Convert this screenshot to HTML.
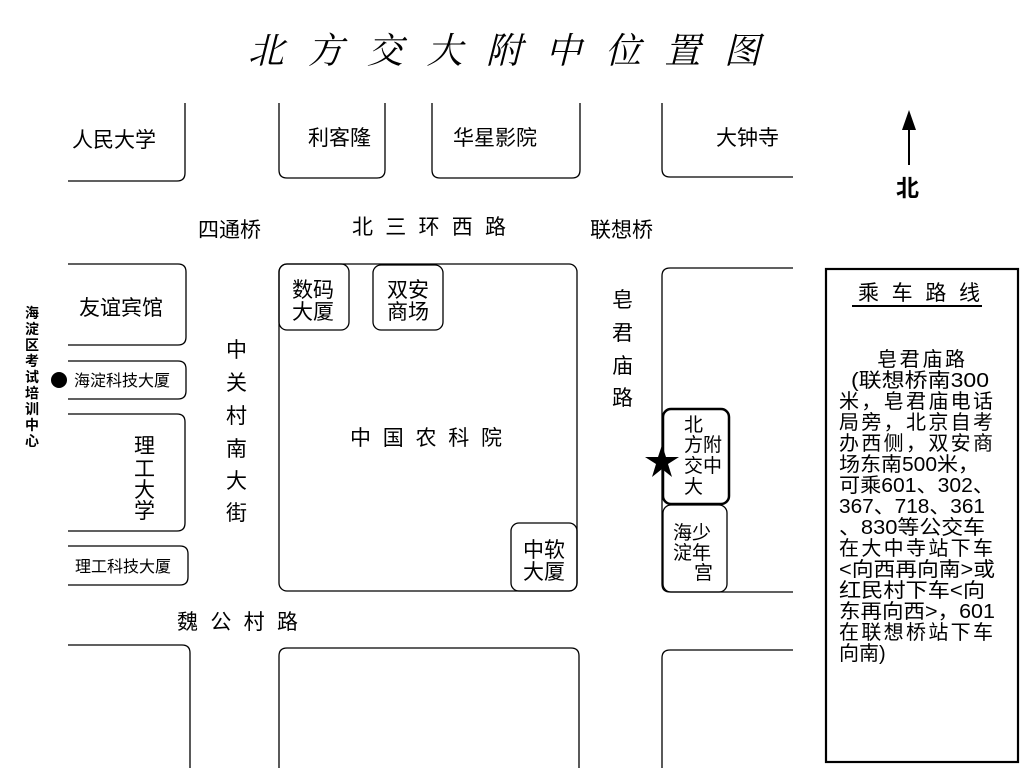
<!DOCTYPE html>
<html><head><meta charset="utf-8"><style>
body{margin:0;background:#fff;}
svg{display:block}
text{font-family:"Liberation Sans","Noto Sans CJK SC",sans-serif;fill:#000;}
</style></head><body>
<svg width="1024" height="768" viewBox="0 0 1024 768" xmlns="http://www.w3.org/2000/svg">
<g fill="none" stroke="#000" stroke-width="1.3">
<path d="M68,181 H177 Q185,181 185,173 V103"/>
<path d="M279,103 V170 Q279,178 287,178 H377 Q385,178 385,170 V103"/>
<path d="M432,103 V170 Q432,178 440,178 H572 Q580,178 580,170 V103"/>
<path d="M662,103 V169 Q662,177 670,177 H793"/>
<path d="M68,264 H178 Q186,264 186,272 V337 Q186,345 178,345 H68"/>
<path d="M68,361 H178 Q186,361 186,369 V391 Q186,399 178,399 H68"/>
<path d="M68,414 H177 Q185,414 185,422 V523 Q185,531 177,531 H68"/>
<path d="M68,546 H180 Q188,546 188,554 V577 Q188,585 180,585 H68"/>
<rect x="279" y="264" width="298" height="327" rx="8"/>
<rect x="279" y="264" width="70" height="66" rx="8"/>
<rect x="373" y="265" width="70" height="65" rx="8"/>
<rect x="511" y="523" width="66" height="68" rx="8"/>
<path d="M793,268 H670 Q662,268 662,276 V584 Q662,592 670,592 H793"/>
<rect x="663" y="505" width="64" height="87" rx="8"/>
<rect x="663" y="409" width="66" height="95" rx="8" stroke-width="2.5"/>
<path d="M68,645 H182 Q190,645 190,653 V768"/>
<path d="M279,768 V656 Q279,648 287,648 H571 Q579,648 579,656 V768"/>
<path d="M662,768 V658 Q662,650 670,650 H793"/>
<rect x="826" y="269" width="192" height="493" stroke-width="2.2"/>
<line x1="852" y1="306" x2="982" y2="306" stroke-width="2"/>
<line x1="909" y1="116" x2="909" y2="165" stroke-width="2"/>
</g>
<polygon points="909,110 902,130 916,130" fill="#000"/>
<circle cx="59" cy="380" r="8" fill="#000"/>
<polygon points="662,445 666,457 679,457 668,464 672,477 662,469 652,477 656,464 645,457 658,457" fill="#000"/>

<text x="248" y="63" font-size="36" font-style="italic" textLength="512" lengthAdjust="spacing" style="font-family:'Noto Serif CJK SC',serif">北方交大附中位置图</text>

<g font-size="21">
<text x="72" y="147">人民大学</text>
<text x="308" y="145">利客隆</text>
<text x="453" y="145">华星影院</text>
<text x="716" y="145">大钟寺</text>
<text x="198" y="237">四通桥</text>
<text x="352" y="234" textLength="154" lengthAdjust="spacing">北三环西路</text>
<text x="590" y="237">联想桥</text>
<text x="79" y="315">友谊宾馆</text>
<text x="134" y="453">理</text><text x="134" y="476">工</text><text x="134" y="497">大</text><text x="134" y="518">学</text>
<text x="292" y="297">数码</text><text x="292" y="319">大厦</text>
<text x="387" y="297">双安</text><text x="387" y="319">商场</text>
<text x="350" y="445" textLength="152" lengthAdjust="spacing">中国农科院</text>
<text x="523" y="557">中软</text><text x="523" y="579">大厦</text>
<text x="226" y="357">中</text><text x="226" y="390">关</text><text x="226" y="423">村</text><text x="226" y="456">南</text><text x="226" y="488">大</text><text x="226" y="520">街</text>
<text x="612" y="307">皂</text><text x="612" y="340">君</text><text x="612" y="373">庙</text><text x="612" y="405">路</text>
<text x="177" y="629" textLength="121" lengthAdjust="spacing">魏公村路</text>
<text x="896" y="196" font-weight="bold" font-size="23">北</text>
<text x="858" y="300" textLength="122" lengthAdjust="spacing">乘车路线</text>
</g>
<g font-size="16">
<text x="74" y="386">海淀科技大厦</text>
<text x="75" y="572">理工科技大厦</text>
</g>
<g font-size="19">
<text x="684" y="431">北</text>
<text x="684" y="451">方附</text>
<text x="684" y="472">交中</text>
<text x="684" y="493">大</text>
<text x="673" y="539">海少</text>
<text x="673" y="559">淀年</text>
<text x="694" y="579">宫</text>
</g>
<g font-size="14" font-weight="bold">
<text x="25" y="318">海</text><text x="25" y="334">淀</text><text x="25" y="350">区</text><text x="25" y="366">考</text><text x="25" y="382">试</text><text x="25" y="398">培</text><text x="25" y="414">训</text><text x="25" y="430">中</text><text x="25" y="446">心</text>
</g>
<g font-size="20">
<text x="877" y="366" textLength="88" lengthAdjust="spacing">皂君庙路</text>
<text x="851" y="387" textLength="138" lengthAdjust="spacingAndGlyphs">(联想桥南300</text>
<text x="839" y="408" textLength="154" lengthAdjust="spacing">米，皂君庙电话</text>
<text x="839" y="429" textLength="154" lengthAdjust="spacing">局旁，北京自考</text>
<text x="839" y="450" textLength="154" lengthAdjust="spacing">办西侧，双安商</text>
<text x="839" y="471" textLength="140" lengthAdjust="spacingAndGlyphs">场东南500米，</text>
<text x="839" y="492" textLength="155" lengthAdjust="spacingAndGlyphs">可乘601、302、</text>
<text x="839" y="513" textLength="146" lengthAdjust="spacingAndGlyphs">367、718、361</text>
<text x="839" y="534" textLength="146" lengthAdjust="spacingAndGlyphs">、830等公交车</text>
<text x="839" y="555" textLength="154" lengthAdjust="spacing">在大中寺站下车</text>
<text x="839" y="576" textLength="156" lengthAdjust="spacingAndGlyphs">&lt;向西再向南&gt;或</text>
<text x="839" y="597" textLength="146" lengthAdjust="spacingAndGlyphs">红民村下车&lt;向</text>
<text x="839" y="618" textLength="156" lengthAdjust="spacingAndGlyphs">东再向西&gt;，601</text>
<text x="839" y="639" textLength="154" lengthAdjust="spacing">在联想桥站下车</text>
<text x="839" y="660">向南)</text>
</g>
</svg>
</body></html>
